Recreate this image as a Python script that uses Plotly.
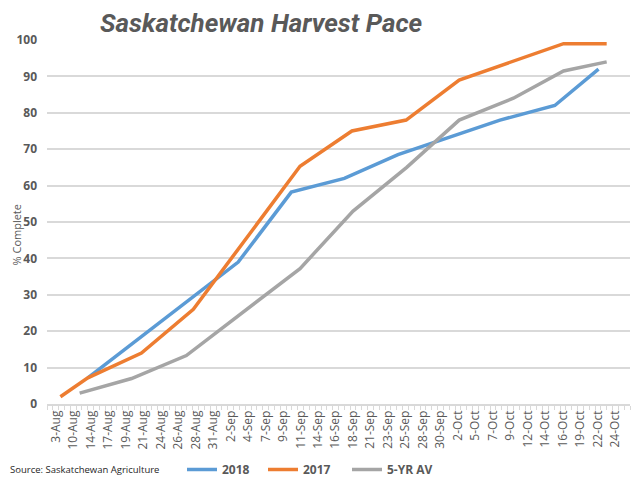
import plotly.graph_objects as go

# Category tick labels (every third category position on the axis)
tick_labels = ["3-Aug", "10-Aug", "14-Aug", "17-Aug", "19-Aug", "21-Aug", "24-Aug", "26-Aug",
               "28-Aug", "31-Aug", "2-Sep", "4-Sep", "7-Sep", "9-Sep", "11-Sep", "14-Sep",
               "16-Sep", "18-Sep", "21-Sep", "23-Sep", "25-Sep", "28-Sep", "30-Sep", "2-Oct",
               "5-Oct", "7-Oct", "9-Oct", "12-Oct", "14-Oct", "16-Oct", "19-Oct", "22-Oct", "24-Oct"]
tick_pos = [1.5 + 3 * i for i in range(len(tick_labels))]

# Series (x in axis category units, y = % complete)
x_2018 = [7.0, 32.8, 41.9, 51.0, 60.2, 77.7, 87.1, 94.6]
y_2018 = [7.2, 39, 58.2, 62, 68.5, 78, 82, 92]

x_2017 = [2.3, 7.0, 16.2, 25.1, 43.4, 52.3, 61.6, 70.7, 88.6, 96.0]
y_2017 = [2, 7.2, 14, 26, 65.3, 75, 78, 89, 99, 99]

x_5yr = [5.6, 14.5, 23.9, 33.9, 43.4, 52.5, 61.7, 70.7, 80.0, 88.6, 96.0]
y_5yr = [3, 7, 13.3, 25.5, 37.2, 53, 65, 78, 84, 91.5, 94]

FONT = "Open Sans"
TXT = "#595959"
GRID = "#d9d9d9"

# page is offset by the browser's 8px body margin
W, H = 632, 472
L, R, T, B = 39, 10, 32, 76
PW = W - L - R
PH = H - T - B

fig = go.Figure()
fig.add_trace(go.Scatter(x=x_2018, y=y_2018, mode="lines", name="2018", legend="legend",
                         line=dict(color="#5B9BD5", width=3.5)))
fig.add_trace(go.Scatter(x=x_2017, y=y_2017, mode="lines", name="2017", legend="legend2",
                         line=dict(color="#ED7D31", width=3.5)))
fig.add_trace(go.Scatter(x=x_5yr, y=y_5yr, mode="lines", name="5-YR AV", legend="legend3",
                         line=dict(color="#A5A5A5", width=3.5)))


def leg(px):
    return dict(orientation="h", x=(px - L) / PW, xanchor="left",
                y=-(447 - (T + PH)) / PH, yanchor="top",
                font=dict(size=12, color=TXT, family=FONT, weight="bold"),
                itemwidth=30, bgcolor="rgba(0,0,0,0)")


fig.update_layout(
    width=W, height=H,
    margin=dict(l=L, r=R, t=T, b=B, autoexpand=False),
    paper_bgcolor="white", plot_bgcolor="white",
    font=dict(family=FONT, color=TXT),
    showlegend=True,
    legend=leg(174), legend2=leg(255), legend3=leg(339),
    annotations=[
        dict(text="<b><i>Saskatchewan Harvest Pace</i></b>", xref="paper", yref="paper",
             x=(253 - L) / PW, xanchor="center", y=1.0, yanchor="middle", yshift=17,
             showarrow=False, font=dict(size=26, color=TXT, family="Roboto")),
        dict(text="% Complete", xref="paper", yref="paper", textangle=-90,
             x=0, xanchor="left", xshift=-L - 1, y=(T + PH - 227) / PH, yanchor="middle",
             showarrow=False, borderpad=0, font=dict(size=11, color=TXT, family=FONT)),
        dict(text="Source: Saskatchewan Agriculture", xref="paper", yref="paper",
             x=0, xanchor="left", xshift=-L, y=0, yanchor="middle", yshift=-65,
             showarrow=False, font=dict(size=9.5, color="#262626", family=FONT)),
    ],
)

fig.update_xaxes(range=[0, 100], tickmode="array", tickvals=tick_pos, ticktext=tick_labels,
                 tickangle=-90, ticks="", showgrid=False, zeroline=False, automargin=False,
                 showline=True, linecolor=GRID, linewidth=1.5,
                 tickfont=dict(size=12, color=TXT, family=FONT),
                 minor=dict(ticks="outside", tickmode="linear", tick0=0, dtick=1,
                            ticklen=4, tickcolor=GRID, tickwidth=1, showgrid=False))
fig.update_yaxes(range=[0, 100], tickmode="linear", tick0=0, dtick=10, automargin=False,
                 showgrid=True, gridcolor=GRID, gridwidth=1.5, zeroline=False,
                 showline=False, ticks="", ticklabelstandoff=9,
                 tickfont=dict(size=12, color=TXT, family=FONT, weight="bold"))

fig.write_html("out.html")
